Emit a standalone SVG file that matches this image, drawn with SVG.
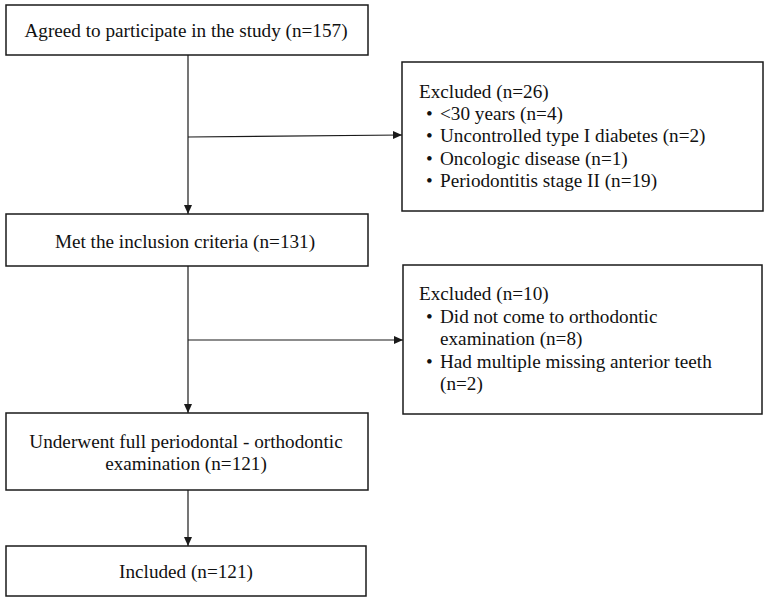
<svg xmlns="http://www.w3.org/2000/svg" width="768" height="601" viewBox="0 0 768 601">
<style>
.box{fill:#fff;stroke:#1a1a1a;stroke-width:1.5}
.t{font-family:"Liberation Serif","Times New Roman",serif;font-size:19.2px;fill:#111}
.c{text-anchor:middle}
.ln{stroke:#1a1a1a;stroke-width:1.2;fill:none;marker-end:url(#ah)}
</style>
<defs>
<marker id="ah" markerWidth="10" markerHeight="10" refX="9" refY="5" orient="auto" markerUnits="userSpaceOnUse">
<path d="M0,1 L9,5 L0,9 Z" fill="#1a1a1a"/>
</marker>
</defs>
<rect width="768" height="601" fill="#fff"/>
<g id="connectors">
<line class="ln" x1="188" y1="55" x2="188" y2="214"/>
<line class="ln" x1="188" y1="137" x2="402" y2="135"/>
<line class="ln" x1="188" y1="266" x2="188" y2="413"/>
<line class="ln" x1="188" y1="340" x2="403" y2="340"/>
<line class="ln" x1="188" y1="490" x2="188" y2="546"/>
</g>
<g id="agreed">
<rect class="box" x="6" y="5" width="362" height="50"/>
<text class="t c" x="186" y="37">Agreed to participate in the study (n=157)</text>
</g>
<g id="excluded1">
<rect class="box" x="402" y="62" width="361" height="149"/>
<text class="t" x="419" y="98">Excluded (n=26)</text>
<text class="t" x="426" y="120">•</text><text class="t" x="440" y="120">&lt;30 years (n=4)</text>
<text class="t" x="426" y="142">•</text><text class="t" x="440" y="142">Uncontrolled type I diabetes (n=2)</text>
<text class="t" x="426" y="165">•</text><text class="t" x="440" y="165">Oncologic disease (n=1)</text>
<text class="t" x="426" y="187">•</text><text class="t" x="440" y="187">Periodontitis stage II (n=19)</text>
</g>
<g id="met">
<rect class="box" x="6" y="214" width="362" height="52"/>
<text class="t c" x="185" y="248">Met the inclusion criteria (n=131)</text>
</g>
<g id="excluded2">
<rect class="box" x="403" y="265" width="359" height="149"/>
<text class="t" x="419" y="300">Excluded (n=10)</text>
<text class="t" x="426" y="323">•</text><text class="t" x="440" y="323">Did not come to orthodontic</text>
<text class="t" x="440" y="345">examination (n=8)</text>
<text class="t" x="426" y="368">•</text><text class="t" x="440" y="368">Had multiple missing anterior teeth</text>
<text class="t" x="440" y="390">(n=2)</text>
</g>
<g id="underwent">
<rect class="box" x="6" y="413" width="362" height="77"/>
<text class="t c" x="186" y="448">Underwent full periodontal - orthodontic</text>
<text class="t c" x="186" y="470">examination (n=121)</text>
</g>
<g id="included">
<rect class="box" x="6" y="546" width="360" height="50"/>
<text class="t c" x="186" y="578">Included (n=121)</text>
</g>
</svg>
